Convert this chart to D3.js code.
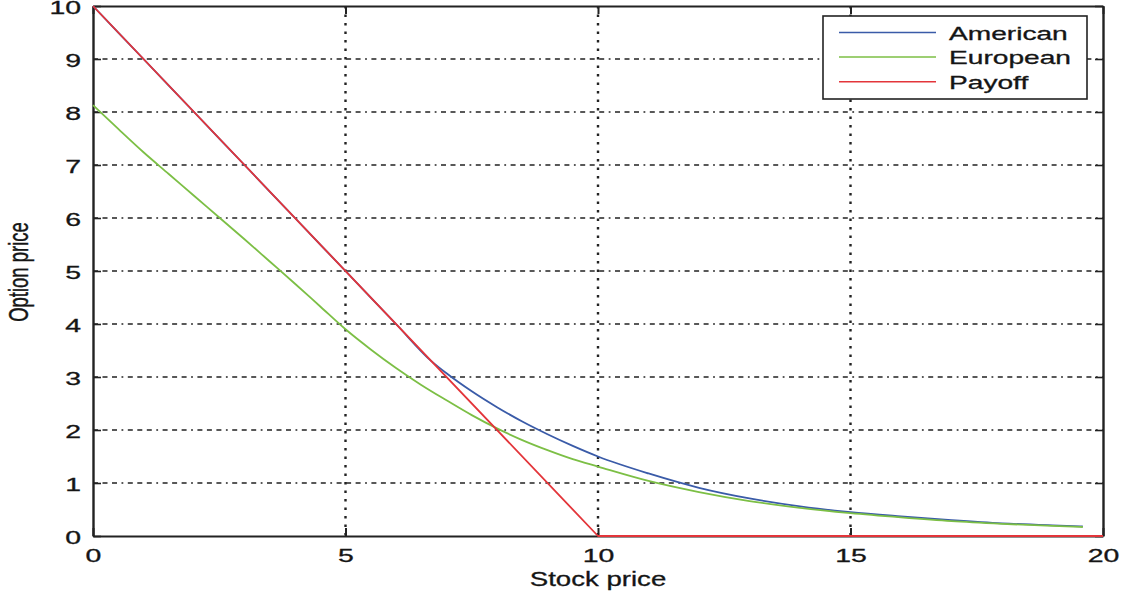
<!DOCTYPE html>
<html>
<head>
<meta charset="utf-8">
<script src="https://cdn.jsdelivr.net/npm/d3@7"></script>
<style>
  html, body { margin: 0; padding: 0; background: #fff; }
  svg { display: block; }
  text { font-family: "Liberation Sans", Arial, Helvetica, sans-serif; fill: #151515; stroke: #151515; stroke-width: 0.3px; }
</style>
</head>
<body>
<svg id="chart" width="1126" height="597"></svg>
<script>
// Put option on a stock, strike 10: American vs European price and payoff
const stockAmerican = [0, 1, 2, 3, 4, 5, 6, 6.7, 7, 7.5, 8, 8.5, 9, 9.5, 10, 11, 12, 13, 14, 15, 16, 17, 18, 19, 19.6];
const americanPrice = [10, 9, 8, 7, 6, 5, 4, 3.3, 3.07, 2.73, 2.43, 2.16, 1.92, 1.70, 1.50, 1.18, 0.91, 0.71, 0.56, 0.45, 0.37, 0.30, 0.24, 0.20, 0.18];

const stockEuropean = [0, 0.5, 1, 1.5, 2, 2.5, 3, 3.5, 4, 4.5, 5, 5.5, 6, 6.5, 7, 7.5, 8, 8.5, 9, 9.5, 10, 11, 12, 13, 14, 15, 16, 17, 18, 19, 19.6];
const europeanPrice = [8.13, 7.68, 7.24, 6.83, 6.42, 6.01, 5.60, 5.18, 4.76, 4.33, 3.90, 3.52, 3.17, 2.85, 2.56, 2.28, 2.03, 1.81, 1.62, 1.45, 1.31, 1.04, 0.83, 0.66, 0.53, 0.43, 0.35, 0.28, 0.23, 0.19, 0.17];

const stockPayoff = [0, 10, 20];
const payoffValue = [10, 0, 0];

const seriesNames = ["American", "European", "Payoff"];
const seriesColors = ["#3a5ba8", "#7cbf45", "#e3353a"];

const xTicks = [0, 5, 10, 15, 20];
const yTicks = [0, 1, 2, 3, 4, 5, 6, 7, 8, 9, 10];
const xTitle = "Stock price";
const yTitle = "Option price";

const svg = d3.select("#chart");
const plotL = 93, plotR = 1103, plotT = 6, plotB = 536;
const x = d3.scaleLinear().domain([0, 20]).range([plotL, plotR]);
const y = d3.scaleLinear().domain([0, 10]).range([plotB, plotT]);

const stretch = 1.58;   // wide lettering
const axisColor = "#222";

// grid
const grid = svg.append("g");
grid.selectAll("line.h").data(yTicks.filter(d => d > 0 && d < 10)).join("line")
  .attr("x1", plotL).attr("x2", plotR)
  .attr("y1", d => y(d)).attr("y2", d => y(d))
  .attr("stroke", "#222").attr("stroke-width", 1.6)
  .attr("stroke-dasharray", "5,4.5,5,4.5,5,4.5,1.8,4.5");
grid.selectAll("line.v").data(xTicks.filter(d => d > 0 && d < 20)).join("line")
  .attr("x1", d => x(d)).attr("x2", d => x(d))
  .attr("y1", plotT).attr("y2", plotB)
  .attr("stroke", "#222").attr("stroke-width", 2.4)
  .attr("stroke-dasharray", "2.5,6");

// axes (ticks point inward)
function styleAxis(g, vertical) {
  g.select(".domain").attr("stroke", axisColor).attr("stroke-width", vertical ? 1.8 : 2.4);
  g.selectAll(".tick line").attr("stroke", axisColor).attr("stroke-width", vertical ? 2 : 1.6);
}
const gLeft = svg.append("g").attr("transform", `translate(${plotL},0)`)
  .call(d3.axisLeft(y).tickValues(yTicks).tickSizeInner(-8).tickSizeOuter(0).tickFormat(d3.format("d")));
styleAxis(gLeft, false);
gLeft.selectAll(".tick text")
  .attr("x", null).attr("dy", "0.36em")
  .attr("transform", `translate(-12,1) scale(${stretch},1)`)
  .style("font-size", "18px").attr("text-anchor", "end").attr("fill", "#151515");

const gRight = svg.append("g").attr("transform", `translate(${plotR},0)`)
  .call(d3.axisRight(y).tickValues(yTicks).tickSizeInner(-8).tickSizeOuter(0).tickFormat(""));
styleAxis(gRight, false);

const gBottom = svg.append("g").attr("transform", `translate(0,${plotB})`)
  .call(d3.axisBottom(x).tickValues(xTicks).tickSizeInner(-8).tickSizeOuter(0).tickFormat(d3.format("d")));
styleAxis(gBottom, true);
gBottom.selectAll(".tick text")
  .attr("y", null).attr("dy", null)
  .attr("transform", `translate(0,26) scale(${stretch},1)`)
  .style("font-size", "18px").attr("text-anchor", "middle").attr("fill", "#151515");

const gTop = svg.append("g").attr("transform", `translate(0,${plotT})`)
  .call(d3.axisTop(x).tickValues(xTicks).tickSizeInner(-8).tickSizeOuter(0).tickFormat(""));
styleAxis(gTop, true);

// axis titles
svg.append("text")
  .attr("transform", `translate(${x(10)},586) scale(1.38,1)`)
  .attr("text-anchor", "middle").style("font-size", "20px").text(xTitle);
svg.append("text")
  .attr("transform", "translate(28,272) scale(1.45,1) rotate(-90)")
  .attr("text-anchor", "middle").style("font-size", "18.5px").text(yTitle);

// curves, drawn in series order (later ones on top)
const smooth = d3.line().x(d => x(d[0])).y(d => y(d[1])).curve(d3.curveMonotoneX);
const straight = d3.line().x(d => x(d[0])).y(d => y(d[1]));
const series = [
  { pts: d3.zip(stockAmerican, americanPrice), gen: smooth },
  { pts: d3.zip(stockEuropean, europeanPrice), gen: smooth },
  { pts: d3.zip(stockPayoff, payoffValue), gen: straight }
];
series.forEach((s, i) => {
  svg.append("path")
    .attr("d", s.gen(s.pts))
    .attr("fill", "none")
    .attr("stroke", seriesColors[i])
    .attr("stroke-width", 1.8)
    .attr("stroke-linejoin", "round");
});

// legend
const lg = svg.append("g");
lg.append("rect")
  .attr("x", 823).attr("y", 16).attr("width", 264).attr("height", 83)
  .attr("fill", "#fff").attr("stroke", axisColor).attr("stroke-width", 1.6);
seriesNames.forEach((name, i) => {
  const ly = 32.5 + i * 24.6;
  lg.append("line")
    .attr("x1", 839).attr("x2", 936).attr("y1", ly).attr("y2", ly)
    .attr("stroke", seriesColors[i]).attr("stroke-width", 1.5);
  lg.append("text")
    .attr("transform", `translate(949,${ly + 7}) scale(1.52,1)`)
    .style("font-size", "18.5px").text(name);
});
</script>
</body>
</html>
